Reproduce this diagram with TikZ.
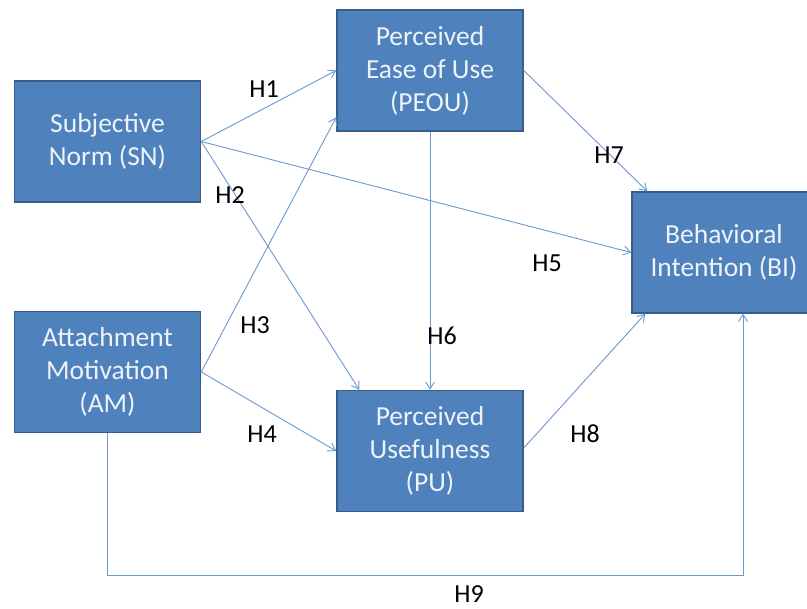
\documentclass[tikz,border=0pt]{standalone}
\usepackage{fontspec}
\setmainfont{Carlito}
\usetikzlibrary{arrows.meta,calc}
\definecolor{boxfill}{HTML}{4F81BD}
\definecolor{boxedge}{HTML}{385D8A}
\definecolor{linec}{HTML}{6A98CF}
\definecolor{txt}{HTML}{EEF3FA}
\begin{document}
\begin{tikzpicture}[x=1pt,y=-1pt,
  box/.style={draw=boxedge, line width=1.5pt, fill=boxfill, text=txt,
    minimum width=186pt, minimum height=121pt, inner sep=0pt, align=center,
    font=\fontsize{27.5}{33}\selectfont},
  conn/.style={draw=linec, line width=0.9pt, -{Straight Barb[length=7pt,width=9pt]}},
  lab/.style={font=\fontsize{26}{30}\selectfont, text=black, inner sep=0pt}]
\useasboundingbox (0,0) rectangle (807,609);
\node[box] (sn) at (107.5,141.5) {Subjective\\Norm (SN)};
\node[box] (peou) at (430,70.5) {Perceived\\Ease of Use\\(PEOU)};
\node[box, minimum width=184pt] (bi) at (724,252.5) {Behavioral\\Intention (BI)};
\node[box] (am) at (107.5,372) {Attachment\\Motivation\\(AM)};
\node[box] (pu) at (430,451) {Perceived\\Usefulness\\(PU)};
\coordinate (h3end) at ($(peou.south west)+(0,-14.5)$);
\coordinate (h2end) at ($(pu.north west)+(23,0)$);
\coordinate (h7end) at ($(bi.north west)+(16,0)$);
\coordinate (h8end) at ($(bi.south west)+(14,0)$);
\coordinate (h8start) at ($(pu.east)+(0,-3)$);
\coordinate (h9corner) at (743,575);
\draw[conn] (sn.east) -- (peou.west);
\draw[conn] (sn.east) -- (h2end);
\draw[conn] (sn.east) -- (bi.west);
\draw[conn] (am.east) -- (h3end);
\draw[conn] (am.east) -- (pu.west);
\draw[conn] (peou.south) -- (pu.north);
\draw[conn] (peou.east) -- (h7end);
\draw[conn] (h8start) -- (h8end);
\draw[conn] (am.south) |- (h9corner) -- (h9corner |- bi.south);
\node[lab] (l1) at (264,89) {H1};
\node[lab] (l2) at (230,195) {H2};
\node[lab] (l3) at (255,325) {H3};
\node[lab] (l4) at (262,434) {H4};
\node[lab] (l5) at (547,263) {H5};
\node[lab] (l6) at (442,336) {H6};
\node[lab] (l7) at (609,155) {H7};
\node[lab] (l8) at (585,434) {H8};
\node[lab] (l9) at (469,594.5) {H9};
\end{tikzpicture}
\end{document}
